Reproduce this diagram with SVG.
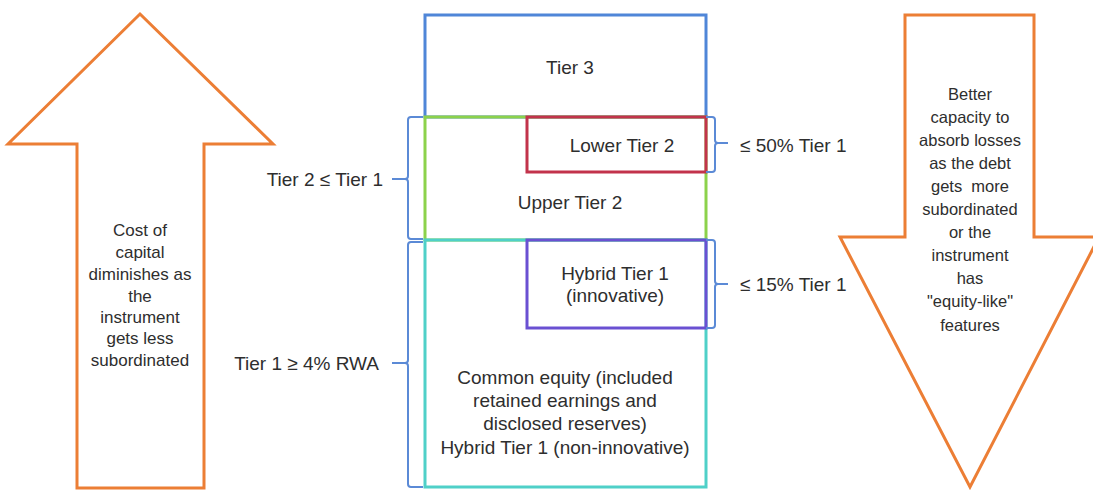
<svg xmlns="http://www.w3.org/2000/svg" width="1093" height="490" viewBox="0 0 1093 490">
  <style>
    text { font-family: "Liberation Sans", Arial, sans-serif; fill: #2e2e2e; text-anchor: middle; }
    .big { font-size: 19px; }
    .mid { font-size: 17px; }
    .sm { font-size: 16.5px; }
    .arrow { fill: #fff; stroke: #EC7E35; stroke-width: 3; stroke-linejoin: miter; }
    .box { fill: none; stroke-width: 3; }
    .brace { fill: none; stroke: #5B8AD6; stroke-width: 2; }
  </style>
  <rect width="1093" height="490" fill="#fff"/>

  <!-- Left arrow: cost of capital -->
  <g id="cost-arrow">
    <polygon class="arrow" points="140,14 273,144 204,144 204,488 77,488 77,144 8,144"/>
    <text class="mid" x="140" y="236">Cost of</text>
    <text class="mid" x="140" y="258">capital</text>
    <text class="mid" x="140" y="280">diminishes as</text>
    <text class="mid" x="140" y="302">the</text>
    <text class="mid" x="140" y="323">instrument</text>
    <text class="mid" x="140" y="344">gets less</text>
    <text class="mid" x="140" y="366">subordinated</text>
  </g>

  <!-- Right arrow: loss absorption -->
  <g id="loss-arrow">
    <polygon class="arrow" points="905,15 1034,15 1034,237 1099,237 970,487 840,237 905,237"/>
    <text class="sm" x="970" y="100">Better</text>
    <text class="sm" x="970" y="123">capacity to</text>
    <text class="sm" x="970" y="146">absorb losses</text>
    <text class="sm" x="970" y="169">as the debt</text>
    <text class="sm" x="970" y="192" xml:space="preserve">gets  more</text>
    <text class="sm" x="970" y="215">subordinated</text>
    <text class="sm" x="970" y="238">or the</text>
    <text class="sm" x="970" y="261">instrument</text>
    <text class="sm" x="970" y="284">has</text>
    <text class="sm" x="970" y="307">"equity-like"</text>
    <text class="sm" x="970" y="331">features</text>
  </g>

  <!-- Capital tiers -->
  <g id="tier3">
    <rect class="box" x="425" y="15" width="281" height="102" stroke="#4F86D8"/>
    <text class="big" x="570" y="74">Tier 3</text>
  </g>
  <g id="upper-tier2">
    <rect class="box" x="425" y="117" width="281" height="123" stroke="#8CD24B"/>
    <text class="big" x="570" y="209">Upper Tier 2</text>
  </g>
  <g id="lower-tier2">
    <rect class="box" x="527" y="117" width="179" height="55" stroke="#C2334B"/>
    <text class="big" x="622" y="152">Lower Tier 2</text>
  </g>
  <g id="tier1">
    <rect class="box" x="425" y="240" width="281" height="247" stroke="#4FD0C8"/>
    <text class="big" x="565" y="384">Common equity (included</text>
    <text class="big" x="565" y="407">retained earnings and</text>
    <text class="big" x="565" y="430">disclosed reserves)</text>
    <text class="big" x="565" y="454">Hybrid Tier 1 (non-innovative)</text>
  </g>
  <g id="hybrid-innovative">
    <rect class="box" x="527" y="240" width="179" height="88" stroke="#6A50D2"/>
    <text class="big" x="615" y="280">Hybrid Tier 1</text>
    <text class="big" x="615" y="302">(innovative)</text>
  </g>

  <!-- Braces grouping the tiers -->
  <g id="connectors">
    <path class="brace" d="M423,117 H411 Q408,117 408,120 V176 Q408,179 405,179 H392 M405,179 Q408,179 408,182 V236 Q408,239 411,239 H423"/>
    <path class="brace" d="M423,242 H411 Q408,242 408,245 V360 Q408,363 405,363 H392 M405,363 Q408,363 408,366 V484 Q408,487 411,487 H423"/>
    <path class="brace" d="M706,117 H712 Q715,117 715,120 V140 Q715,143 718,143 H728 M718,143 Q715,143 715,146 V169 Q715,172 712,172 H706"/>
    <path class="brace" d="M706,240 H712 Q715,240 715,243 V281 Q715,284 718,284 H728 M718,284 Q715,284 715,287 V325 Q715,328 712,328 H706"/>
  </g>
  <g id="limits">
    <text class="big" x="383" y="186" style="text-anchor:end">Tier 2 ≤ Tier 1</text>
    <text class="big" x="379" y="370" style="text-anchor:end">Tier 1 ≥ 4% RWA</text>
    <text class="big" x="740" y="152" style="text-anchor:start">≤ 50% Tier 1</text>
    <text class="big" x="740" y="291" style="text-anchor:start">≤ 15% Tier 1</text>
  </g>
</svg>
